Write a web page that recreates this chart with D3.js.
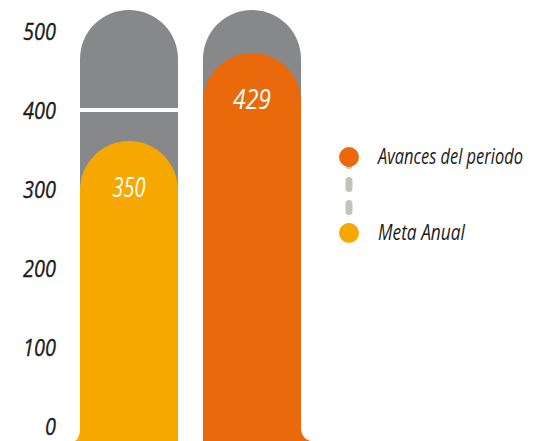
<!DOCTYPE html>
<html>
<head>
<meta charset="utf-8">
<script src="https://cdn.jsdelivr.net/npm/d3@7"></script>
<style>
  html, body { margin: 0; padding: 0; background: #fff; }
  svg { display: block; }
  text { font-family: "Open Sans", "DejaVu Sans", sans-serif; font-style: italic; }
</style>
</head>
<body>
<script>
// ---- data ----
const categories = ["Meta Anual", "Avances del periodo"];
const values = [350, 429];
const barColors = ["#f6a800", "#ea690b"];
const tickValues = [0, 100, 200, 300, 400, 500];
const legendLabels = ["Avances del periodo", "Meta Anual"];
const legendColors = ["#ea690b", "#f6a800"];
const gridValue = [400];

const W = 534, H = 441;
const svg = d3.select("body").append("svg").attr("width", W).attr("height", H);

// axis scale (label centres)
const yAxis = d3.scaleLinear().domain([0, 500]).range([426, 31]);
// bar scale (top of rounded cap)
const yBar = d3.scaleLinear().domain([0, 500]).range([531, -26]);
const x = d3.scaleBand().domain(categories).range([80, 301]).paddingInner(25 / 123).paddingOuter(0);
const bw = x.bandwidth();
const r = bw / 2;
const trackTop = 10, bottom = H;

function capPath(x0, top, w, b) {
  const rr = w / 2;
  return `M${x0},${b} L${x0},${top + rr} A${rr},${rr} 0 0 1 ${x0 + w},${top + rr} L${x0 + w},${b} Z`;
}

// helper: condensed text by horizontal scaling around anchor
function condensed(g, str, width, anchor) {
  const t = g.append("text").text(str);
  return t;
}

// gray tracks
svg.selectAll("path.track").data(categories).enter().append("path")
  .attr("class", "track")
  .attr("d", d => capPath(x(d), trackTop, bw, bottom))
  .attr("fill", "#87888a");

// white grid line in first track
svg.selectAll("line.grid").data(gridValue).enter().append("line")
  .attr("x1", x(categories[0])).attr("x2", x(categories[0]) + bw)
  .attr("y1", d => yAxis(d)).attr("y2", d => yAxis(d))
  .attr("stroke", "#fff").attr("stroke-width", 4);

// value bars
svg.selectAll("path.bar").data(values).enter().append("path")
  .attr("class", "bar")
  .attr("d", (v, i) => capPath(x(categories[i]), yBar(v), bw, bottom))
  .attr("fill", (v, i) => barColors[i]);

// bottom fillets
const f0 = x(categories[0]);
svg.append("path")
  .attr("d", `M${f0},${bottom - 12} L${f0},${bottom} L${f0 - 6},${bottom} A6,12 0 0 0 ${f0},${bottom - 12} Z`)
  .attr("fill", barColors[0]);
const f1 = x(categories[1]) + bw;
svg.append("path")
  .attr("d", `M${f1},${bottom - 13} L${f1},${bottom} L${f1 + 11},${bottom} A11,13 0 0 1 ${f1},${bottom - 13} Z`)
  .attr("fill", barColors[1]);

// y axis labels (condensed via horizontal scale)
const axisG = svg.append("g");
axisG.selectAll("g.tick").data(tickValues).enter().append("g")
  .attr("class", "tick")
  .each(function (d) {
    const g = d3.select(this);
    const t = g.append("text")
      .attr("font-size", 24)
      .attr("fill", "#1d1a1b")
      .attr("stroke", "#1d1a1b").attr("stroke-width", 0.35)
      .attr("text-anchor", "end")
      .attr("dy", "0.36em")
      .text(d);
    const w = t.node().getComputedTextLength();
    const sx = (String(d).length * 11) / w;
    g.attr("transform", `translate(56,${yAxis(d)}) scale(${sx},1)`);
  });

// value labels
const valWidths = [33, 38];
svg.selectAll("g.val").data(values).enter().append("g")
  .attr("class", "val")
  .each(function (v, i) {
    const g = d3.select(this);
    const t = g.append("text")
      .attr("font-size", 28)
      .attr("fill", "#fff")
      .attr("text-anchor", "middle")
      .text(v);
    const sx = valWidths[i] / t.node().getComputedTextLength();
    g.attr("transform", `translate(${x(categories[i]) + r},${yBar(v) + 56}) scale(${sx},1)`);
  });

// legend
const ly = [157, 233];
const legendWidths = [145, 87];
svg.append("line")
  .attr("x1", 349).attr("x2", 349)
  .attr("y1", ly[0]).attr("y2", ly[1])
  .attr("stroke", "#c5c3b8").attr("stroke-width", 7)
  .attr("stroke-linecap", "round")
  .attr("stroke-dasharray", "8,15")
  .attr("stroke-dashoffset", -0.5);
svg.selectAll("circle.leg").data(legendLabels).enter().append("circle")
  .attr("class", "leg")
  .attr("cx", 349).attr("cy", (d, i) => ly[i]).attr("r", 10)
  .attr("fill", (d, i) => legendColors[i]);
svg.selectAll("g.leg").data(legendLabels).enter().append("g")
  .attr("class", "leg")
  .each(function (d, i) {
    const g = d3.select(this);
    const t = g.append("text")
      .attr("font-size", 22)
      .attr("fill", "#1d1a1b")
      .text(d);
    const sx = legendWidths[i] / t.node().getComputedTextLength();
    g.attr("transform", `translate(378,${ly[i] + 7}) scale(${sx},1)`);
  });
</script>
</body>
</html>
